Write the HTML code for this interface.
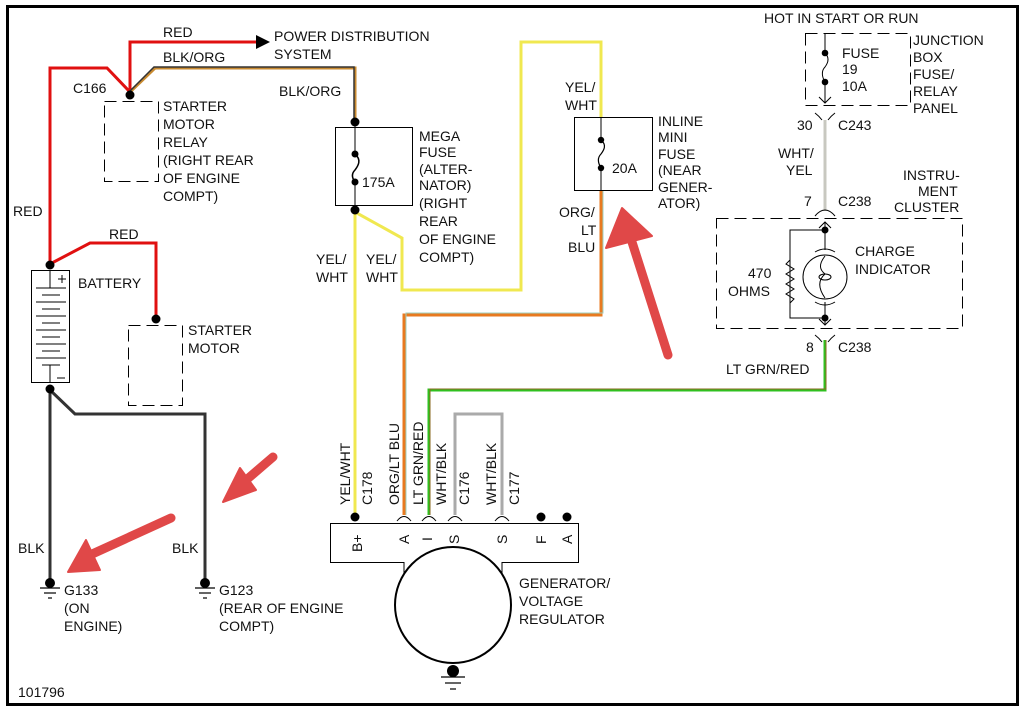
<!DOCTYPE html>
<html><head><meta charset="utf-8"><style>
html,body{margin:0;padding:0;background:#fff;}
svg{display:block;}
text{font-family:"Liberation Sans",sans-serif;font-size:14px;fill:#111;}
</style></head><body>
<svg width="1025" height="711" viewBox="0 0 1025 711" xmlns="http://www.w3.org/2000/svg">
<rect x="0" y="0" width="1025" height="711" fill="#fff"/>
<rect x="7.5" y="6.5" width="1010" height="698" fill="none" stroke="#000" stroke-width="3"/>

<!-- red wires -->
<polyline points="50,264 50,68 107,68 130,92 130,42 258,42" fill="none" stroke="#e01010" stroke-width="3"/>
<polygon points="256,35 270,42 256,49" fill="#000"/>
<polyline points="50,264 90,243 156,243 156,319" fill="none" stroke="#e01010" stroke-width="3"/>
<!-- blk/org -->
<polyline points="130,92 155,68 355,68 355,122" fill="none" stroke="#c88a30" stroke-width="3"/>
<polyline points="130,91 154,67 354,67 354,122" fill="none" stroke="#333" stroke-width="1.5"/>
<!-- black ground wires -->
<polyline points="50,390 50,580" fill="none" stroke="#333" stroke-width="3"/>
<polyline points="50,390 75,414 205,414 205,580" fill="none" stroke="#333" stroke-width="3"/>

<!-- yellow -->
<line x1="355" y1="210" x2="355" y2="517" stroke="#f0e850" stroke-width="3"/>
<polyline points="355,212 402,238 402,290 521,290 521,42 601,42 601,117" fill="none" stroke="#f0e850" stroke-width="3"/>
<!-- org/lt blu -->
<polyline points="601,191 601,315 404,315 404,515" fill="none" stroke="#e87a20" stroke-width="3"/>
<polyline points="603,191 603,313 406,313 406,515" fill="none" stroke="#9fd0c0" stroke-width="1"/>
<!-- green -->
<polyline points="825,340 825,390 429,390 429,515" fill="none" stroke="#30c020" stroke-width="3"/>
<polyline points="826,340 826,389 430,389 430,515" fill="none" stroke="#8a6a20" stroke-width="1"/>
<!-- gray -->
<polyline points="455,515 455,414 502,414 502,515" fill="none" stroke="#aaa" stroke-width="3"/>
<!-- wht/yel -->
<line x1="825" y1="120" x2="825" y2="211" stroke="#c8c8c0" stroke-width="3"/>

<!-- dots -->
<g fill="#000">
<circle cx="130" cy="95" r="4.5"/><circle cx="50" cy="265" r="4.5"/><circle cx="156" cy="319" r="4.5"/>
<circle cx="50" cy="389" r="4.5"/><circle cx="355" cy="122" r="4.5"/><circle cx="355" cy="210" r="4.5"/>
<circle cx="355" cy="517" r="4.5"/><circle cx="541" cy="517" r="4.5"/><circle cx="567" cy="517" r="4.5"/>
<circle cx="50" cy="583" r="5"/><circle cx="205" cy="583" r="5"/><circle cx="453" cy="671" r="6"/>
</g>

<!-- relay dashed -->
<rect x="104.5" y="101.5" width="54" height="80" fill="none" stroke="#000" stroke-width="1" stroke-dasharray="12,6"/>
<rect x="128.5" y="325.5" width="54" height="80" fill="none" stroke="#000" stroke-width="1" stroke-dasharray="12,6"/>

<!-- battery -->
<rect x="31.5" y="270.5" width="38" height="112" fill="none" stroke="#000"/>
<g stroke="#000" stroke-width="1">
<line x1="50" y1="270" x2="50" y2="288"/><line x1="36" y1="288" x2="66" y2="288"/>
<line x1="42" y1="295" x2="60" y2="295"/><line x1="36" y1="302" x2="66" y2="302"/>
<line x1="42" y1="309" x2="60" y2="309"/><line x1="36" y1="316" x2="66" y2="316"/>
<line x1="42" y1="323" x2="60" y2="323"/><line x1="36" y1="330" x2="66" y2="330"/>
<line x1="42" y1="337" x2="60" y2="337"/><line x1="36" y1="344" x2="66" y2="344"/>
<line x1="42" y1="351" x2="60" y2="351"/><line x1="36" y1="358" x2="66" y2="358"/>
<line x1="42" y1="365" x2="60" y2="365"/><line x1="50" y1="365" x2="50" y2="383"/>
<line x1="57" y1="378" x2="65" y2="378"/><line x1="58" y1="279" x2="66" y2="279"/><line x1="62" y1="275" x2="62" y2="283"/>
</g>

<!-- grounds -->
<g stroke="#000" stroke-width="1.2">
<line x1="40" y1="588" x2="60" y2="588"/><line x1="44" y1="593" x2="56" y2="593"/><line x1="48" y1="598" x2="52" y2="598"/>
<line x1="195" y1="588" x2="215" y2="588"/><line x1="199" y1="593" x2="211" y2="593"/><line x1="203" y1="598" x2="207" y2="598"/>
<line x1="441" y1="677" x2="465" y2="677"/><line x1="445" y1="683" x2="461" y2="683"/><line x1="450" y1="689" x2="456" y2="689"/>
</g>

<!-- mega fuse -->
<rect x="335.5" y="127.5" width="77" height="78" fill="none" stroke="#000"/>
<line x1="355" y1="122" x2="355" y2="152" stroke="#000"/><line x1="355" y1="182" x2="355" y2="210" stroke="#000"/>
<path d="M355,154 C362,160 358,166 355,170 C351,174 352,178 355,182" fill="none" stroke="#000" stroke-width="1.5"/>
<circle cx="355" cy="154" r="3.5"/><circle cx="355" cy="182" r="3.5"/>

<!-- inline fuse -->
<rect x="574.5" y="117.5" width="78" height="73" fill="none" stroke="#000"/>
<line x1="601" y1="117" x2="601" y2="140" stroke="#000"/><line x1="601" y1="168" x2="601" y2="191" stroke="#000"/>
<path d="M601,140 C607,145 604,150 601,154 C597,158 598,163 601,168" fill="none" stroke="#000" stroke-width="1.2"/>
<circle cx="601" cy="140" r="3.2"/><circle cx="601" cy="168" r="3.2"/>

<!-- junction box -->
<rect x="805.5" y="33.5" width="105" height="72" fill="none" stroke="#000" stroke-dasharray="12,6"/>
<line x1="825" y1="33" x2="825" y2="53" stroke="#000"/><line x1="825" y1="82" x2="825" y2="103" stroke="#000"/>
<path d="M825,53 C830,58 828,63 825,67 C821,71 822,77 825,82" fill="none" stroke="#000"/>
<circle cx="825" cy="53" r="3.3"/><circle cx="825" cy="82" r="3.3"/>
<polyline points="819,97 825,103 831,97" fill="none" stroke="#000"/>
<path d="M815,113 Q819,116 822,120 M835,113 Q831,116 828,120" fill="none" stroke="#000"/>

<!-- instrument cluster -->
<rect x="716.5" y="218.5" width="246" height="110" fill="none" stroke="#000" stroke-dasharray="12,6"/>
<path d="M815,216 Q820,210 825,210 Q830,210 835,216" fill="none" stroke="#000"/>
<polyline points="819,228 825,222 831,228" fill="none" stroke="#000"/>
<line x1="825" y1="222" x2="825" y2="250" stroke="#000"/>
<circle cx="825" cy="230" r="3.5"/>
<polyline points="825,230 790,230 790,318 825,318" fill="none" stroke="#000"/>
<polyline points="790,260 786,264 794,269 786,274 794,279 786,284 794,289 786,294 794,299 790,303" fill="none" stroke="#000"/>
<circle cx="825" cy="277" r="22" fill="none" stroke="#000"/>
<path d="M815,252 Q825,246 835,252 M815,302 Q825,308 835,302" fill="none" stroke="#000"/>
<path d="M825,256 C818,265 820,270 825,274 C818,280 818,288 825,298" fill="none" stroke="#000"/>
<ellipse cx="825" cy="277" rx="6" ry="3" fill="none" stroke="#000"/>
<circle cx="825" cy="318" r="3.5"/>
<line x1="825" y1="302" x2="825" y2="325" stroke="#000"/>
<polyline points="819,319 825,325 831,319" fill="none" stroke="#000"/>
<path d="M815,335 Q819,338 822,342 M835,335 Q831,338 828,342" fill="none" stroke="#000"/>

<!-- generator -->
<polyline points="404,585 404,562.5 330.5,562.5 330.5,523.5 578.5,523.5 578.5,562.5 502,562.5 502,585" fill="none" stroke="#000"/>
<circle cx="453" cy="605" r="58" fill="#fff" stroke="#000" stroke-width="2"/>
<g fill="none" stroke="#000">
<path d="M397,521 Q404,512 411,521 M422,521 Q429,512 436,521 M448,521 Q455,512 462,521 M495,521 Q502,512 509,521"/>
</g>
<g transform="translate(362,552) rotate(-90)"><text x="0" y="0" font-size="12">B+</text></g>
<g transform="translate(409,544) rotate(-90)"><text font-size="12">A</text></g>
<g transform="translate(432,541) rotate(-90)"><text font-size="12">I</text></g>
<g transform="translate(459,544) rotate(-90)"><text font-size="12">S</text></g>
<g transform="translate(507,544) rotate(-90)"><text font-size="12">S</text></g>
<g transform="translate(546,544) rotate(-90)"><text font-size="12">F</text></g>
<g transform="translate(572,544) rotate(-90)"><text font-size="12">A</text></g>
<g transform="translate(350,505) rotate(-90)"><text font-size="13">YEL/WHT</text></g>
<g transform="translate(372,505) rotate(-90)"><text font-size="13">C178</text></g>
<g transform="translate(399,505) rotate(-90)"><text font-size="13">ORG/LT BLU</text></g>
<g transform="translate(423,505) rotate(-90)"><text font-size="13">LT GRN/RED</text></g>
<g transform="translate(446,505) rotate(-90)"><text font-size="13">WHT/BLK</text></g>
<g transform="translate(469,505) rotate(-90)"><text font-size="13">C176</text></g>
<g transform="translate(496,505) rotate(-90)"><text font-size="13">WHT/BLK</text></g>
<g transform="translate(519,505) rotate(-90)"><text font-size="13">C177</text></g>

<!-- labels -->
<text x="163" y="37">RED</text>
<text x="163" y="62">BLK/ORG</text>
<text x="274" y="41">POWER DISTRIBUTION</text>
<text x="274" y="59">SYSTEM</text>
<text x="73" y="93">C166</text>
<text x="163" y="111">STARTER</text><text x="163" y="129">MOTOR</text><text x="163" y="147">RELAY</text>
<text x="163" y="165">(RIGHT REAR</text><text x="163" y="183">OF ENGINE</text><text x="163" y="201">COMPT)</text>
<text x="279" y="96">BLK/ORG</text>
<text x="13" y="216">RED</text>
<text x="109" y="239">RED</text>
<text x="78" y="288">BATTERY</text>
<text x="188" y="335">STARTER</text><text x="188" y="353">MOTOR</text>
<text x="419" y="141">MEGA</text><text x="419" y="157">FUSE</text><text x="419" y="174">(ALTER-</text>
<text x="419" y="190">NATOR)</text><text x="419" y="208">(RIGHT</text><text x="419" y="226">REAR</text>
<text x="419" y="244">OF ENGINE</text><text x="419" y="262">COMPT)</text>
<text x="362" y="187">175A</text>
<text x="316" y="264">YEL/</text><text x="316" y="282">WHT</text>
<text x="366" y="264">YEL/</text><text x="366" y="282">WHT</text>
<text x="565" y="92">YEL/</text><text x="565" y="110">WHT</text>
<text x="612" y="173">20A</text>
<text x="658" y="126">INLINE</text><text x="658" y="142">MINI</text><text x="658" y="159">FUSE</text>
<text x="658" y="175">(NEAR</text><text x="658" y="192">GENER-</text><text x="658" y="208">ATOR)</text>
<text x="559" y="217">ORG/</text><text x="581" y="235">LT</text><text x="568" y="252">BLU</text>
<text x="764" y="23">HOT IN START OR RUN</text>
<text x="842" y="58">FUSE</text><text x="842" y="74">19</text><text x="842" y="91">10A</text>
<text x="913" y="45">JUNCTION</text><text x="913" y="62">BOX</text><text x="913" y="79">FUSE/</text>
<text x="913" y="96">RELAY</text><text x="913" y="113">PANEL</text>
<text x="797" y="130">30</text><text x="838" y="130">C243</text>
<text x="778" y="158">WHT/</text><text x="786" y="175">YEL</text>
<text x="903" y="180">INSTRU-</text><text x="918" y="196">MENT</text><text x="894" y="212">CLUSTER</text>
<text x="804" y="206">7</text><text x="838" y="206">C238</text>
<text x="855" y="256">CHARGE</text><text x="855" y="274">INDICATOR</text>
<text x="748" y="278">470</text><text x="728" y="296">OHMS</text>
<text x="806" y="352">8</text><text x="838" y="352">C238</text>
<text x="726" y="374">LT GRN/RED</text>
<text x="18" y="553">BLK</text><text x="172" y="553">BLK</text>
<text x="64" y="595">G133</text><text x="64" y="613">(ON</text><text x="64" y="631">ENGINE)</text>
<text x="219" y="595">G123</text><text x="219" y="613">(REAR OF ENGINE</text><text x="219" y="631">COMPT)</text>
<text x="519" y="588">GENERATOR/</text><text x="519" y="606">VOLTAGE</text><text x="519" y="624">REGULATOR</text>
<text x="18" y="697" font-size="13">101796</text>

<!-- red arrows -->
<g fill="#e04848" stroke="#e04848" stroke-linecap="round">
<line x1="668" y1="355" x2="632" y2="242" stroke-width="9"/>
<polygon points="622,208 606,248 652,236" stroke-width="2" stroke-linejoin="round"/>
<line x1="273" y1="457" x2="245" y2="481" stroke-width="9"/>
<polygon points="223,502 240,468 256,490" stroke-width="2" stroke-linejoin="round"/>
<line x1="171" y1="518" x2="90" y2="555" stroke-width="9"/>
<polygon points="68,572 86,540 100,570" stroke-width="2" stroke-linejoin="round"/>
</g>
</svg>
</body></html>
